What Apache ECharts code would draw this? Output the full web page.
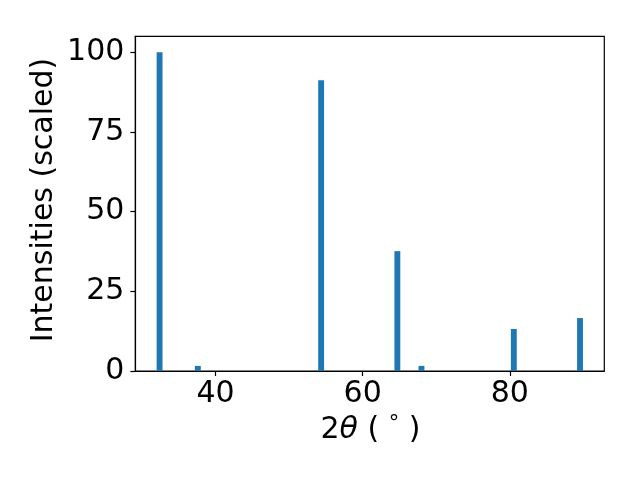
<!DOCTYPE html>
<html><head><meta charset="utf-8">
<script src="https://cdn.jsdelivr.net/npm/echarts@6/dist/echarts.min.js"></script>
<style>html,body{margin:0;padding:0;background:#fff}#c{width:640px;height:480px}</style>
</head><body><div id="c"></div>
<script>
const twoTheta = [32.4, 37.6, 54.36, 64.72, 68.0, 80.55, 89.55];
const intensities = [100, 1.6, 91.2, 37.6, 1.6, 13.2, 16.6];
const xTicks = [40, 60, 80];
const yTicks = [0, 25, 50, 75, 100];
const xTitle = '2{i|θ} ( {s|°} )';
const yTitle = 'Intensities (scaled)';
const barWidthDeg = 0.8;

const chart = echarts.init(document.getElementById('c'), null, {renderer: 'canvas'});
const font = 'DejaVu Sans';
chart.setOption({
  animation: false,
  grid: {left: 135.3, right: 35.7, top: 36.3, bottom: 109, show: true, borderColor: '#000', borderWidth: 1.2, backgroundColor: '#fff'},
  graphic: [
    {type: 'text', x: 44, y: 200, rotation: Math.PI / 2,
     style: {text: yTitle, fontFamily: font, fontSize: 30, fill: '#000', align: 'center', verticalAlign: 'middle'}},
    {type: 'text', x: 370.5, y: 430,
     style: {text: xTitle, fontFamily: font, fontSize: 30, fill: '#000', align: 'center', verticalAlign: 'middle',
       rich: {i: {fontFamily: font, fontStyle: 'italic', fontSize: 30, fill: '#000'},
              s: {fontFamily: font, fontSize: 21, fill: '#000', verticalAlign: 'top', padding: [0,0,10,0]}}}}
  ],
  xAxis: {
    type: 'value', min: 29.1, max: 92.85,
    axisLine: {show: true, onZero: false, lineStyle: {color: '#000', width: 1.2}},
    axisTick: {show: true, length: 5, customValues: xTicks, lineStyle: {color: '#000', width: 1.2}},
    axisLabel: {customValues: xTicks, fontFamily: font, fontSize: 30, color: '#000', margin: 8},
    splitLine: {show: false}
  },
  yAxis: {
    type: 'value', min: 0, max: 105,
    axisLine: {show: true, lineStyle: {color: '#000', width: 1.2}},
    axisTick: {show: true, length: 5, customValues: yTicks, lineStyle: {color: '#000', width: 1.2}},
    axisLabel: {customValues: yTicks, fontFamily: font, fontSize: 30, color: '#000', margin: 11},
    splitLine: {show: false}
  },
  series: [{
    type: 'custom',
    data: twoTheta.map((x, i) => [x, intensities[i]]),
    renderItem: function (params, api) {
      const x = api.value(0), y = api.value(1);
      const p1 = api.coord([x - barWidthDeg / 2, y]);
      const p2 = api.coord([x + barWidthDeg / 2, 0]);
      return {type: 'rect', shape: {x: p1[0], y: p1[1], width: p2[0] - p1[0], height: p2[1] - p1[1]},
        style: {fill: '#1f77b4'}};
    },
    encode: {x: 0, y: 1}
  }]
});
</script></body></html>
